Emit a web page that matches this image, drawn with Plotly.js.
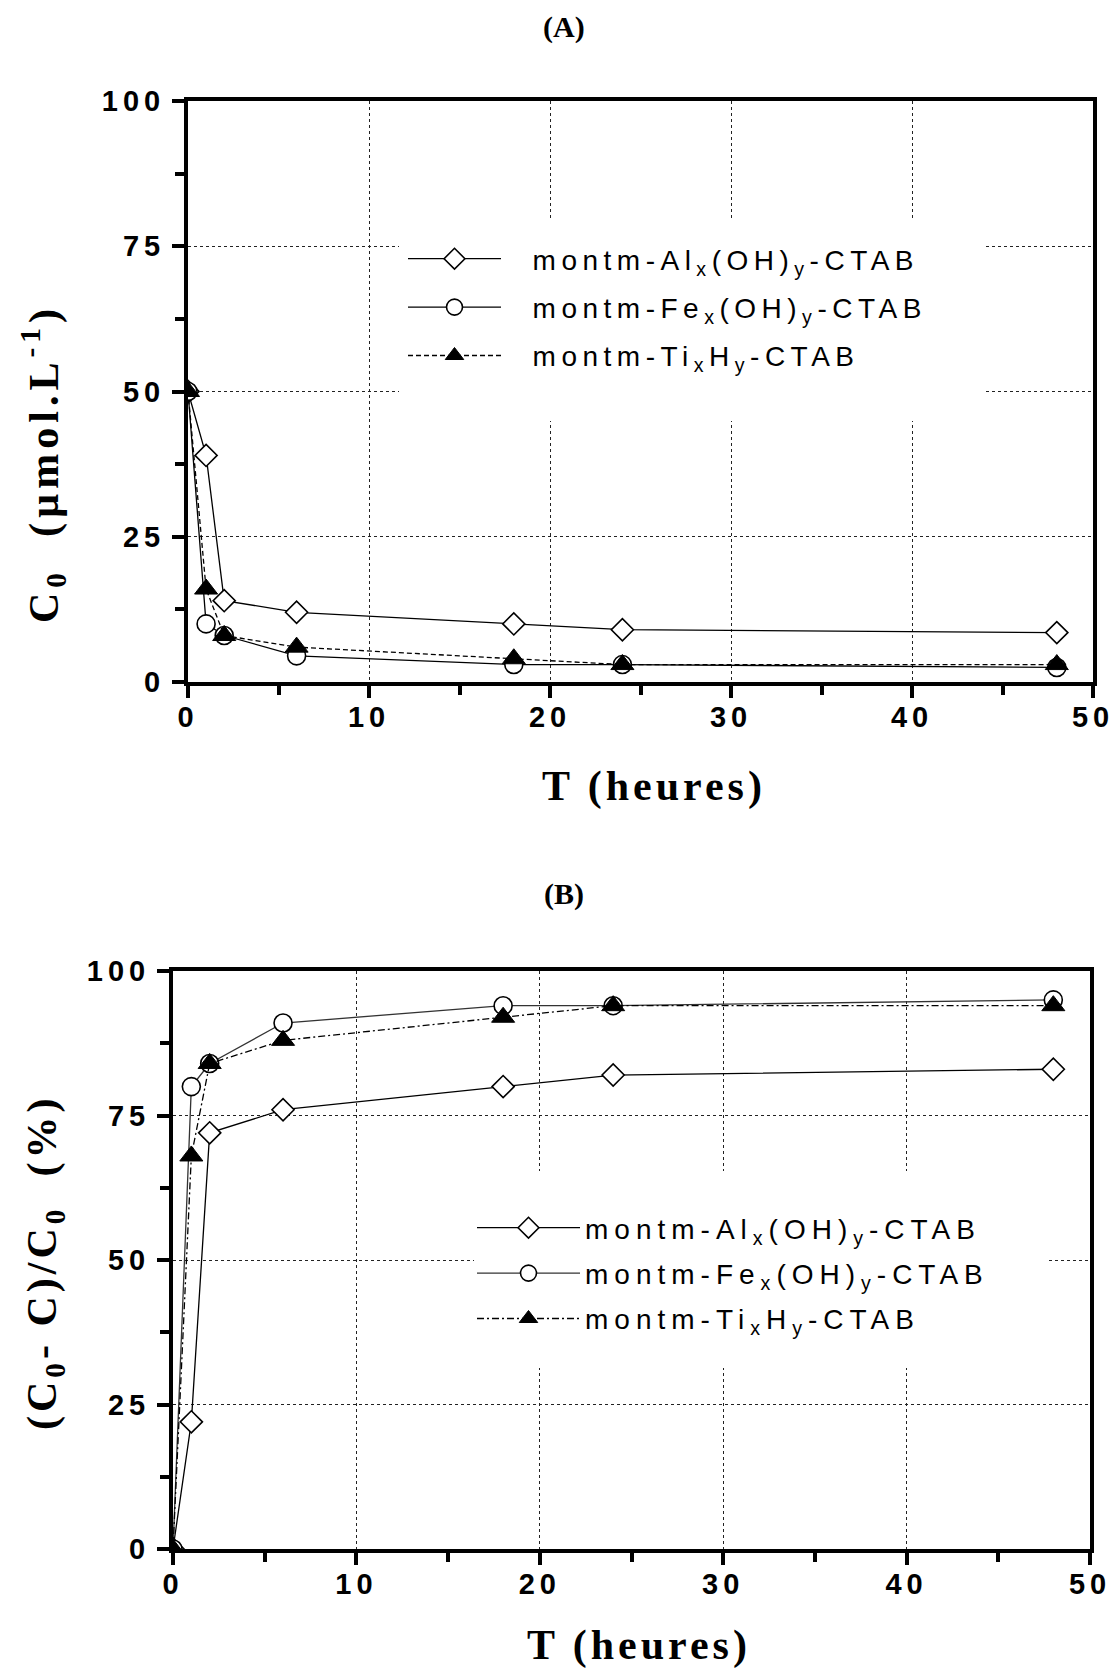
<!DOCTYPE html>
<html>
<head>
<meta charset="utf-8">
<script src="https://cdn.plot.ly/plotly-3.0.1.min.js"></script>
<style>
body{margin:0;background:#fff}
.legendtext{letter-spacing:5.5px}
.legend2text{letter-spacing:6px}
.xtick text,.ytick text,.x2tick text,.y2tick text{letter-spacing:5px}
.annotation-text{letter-spacing:4px}
.annotation[data-index="0"] text,.annotation[data-index="3"] text{letter-spacing:0px}
.annotation[data-index="2"] text{letter-spacing:5px}
</style>
</head>
<body>
<div id="chart" style="width:1118px;height:1669px"></div>
<script>
// ---- data ----
const hours = [0, 1, 2, 6, 18, 24, 48];
const concAl = [50, 39, 14, 12, 10, 9, 8.5];
const concFe = [50, 10, 8, 4.5, 3, 3, 2.5];
const concTi = [50, 16, 8, 6, 4, 3, 3];
const removalAl = [0, 22, 72, 76, 80, 82, 83];
const removalFe = [0, 80, 84, 91, 94, 94, 95];
const removalTi = [0, 68, 84, 88, 92, 94, 94];
const seriesNames = [
  'montm-Al<sub>x</sub>(OH)<sub>y</sub>-CTAB',
  'montm-Fe<sub>x</sub>(OH)<sub>y</sub>-CTAB',
  'montm-Ti<sub>x</sub>H<sub>y</sub>-CTAB'
];
const xTickVals = [0, 10, 20, 30, 40, 50];
const yTickVals = [0, 25, 50, 75, 100];
const panelTitles = ['(A)', '(B)'];
const xTitle = 'T (heures)';
const yTitleA = 'C<sub>0</sub>  (µmol.L<sup>-1</sup>)';
const yTitleB = '(C<sub>0</sub>- C)/C<sub>0</sub>  (%)';

// ---- styles ----
const W = 1118, H = 1669;
const px = v => v / W;
const py = v => 1 - v / H;
const sans = 'Liberation Sans, Arial, sans-serif';
const serif = 'Liberation Serif, Times New Roman, serif';
const gapA = '\u00A0\u00A0';

const mk = {
  Al: {symbol: 'diamond', size: 17, color: 'white', line: {color: 'black', width: 1.6}},
  Fe: {symbol: 'circle', size: 18, color: 'white', line: {color: 'black', width: 1.6}},
  Ti: {symbol: 'triangle-up', size: 20, color: 'black', line: {color: 'black', width: 1}}
};

function tr(y, name, m, line, xa, ya, leg, grp) {
  return {
    x: hours, y: y, name: name, type: 'scatter', mode: 'lines+markers',
    marker: m, line: line, xaxis: xa, yaxis: ya, legend: leg, legendgroup: grp
  };
}

const data = [
  tr(concAl, gapA + seriesNames[0], mk.Al, {color: 'black', width: 1.3}, 'x', 'y', 'legend', 'a1'),
  tr(concFe, gapA + seriesNames[1], mk.Fe, {color: 'black', width: 1.3}, 'x', 'y', 'legend', 'a2'),
  tr(concTi, gapA + seriesNames[2], mk.Ti, {color: 'black', width: 1.3, dash: '5px,3px'}, 'x', 'y', 'legend', 'a3'),
  tr(removalAl, seriesNames[0], mk.Al, {color: 'black', width: 1.3}, 'x2', 'y2', 'legend2', 'b1'),
  tr(removalFe, seriesNames[1], mk.Fe, {color: '#333', width: 1.3}, 'x2', 'y2', 'legend2', 'b2'),
  tr(removalTi, seriesNames[2], mk.Ti, {color: 'black', width: 1.3, dash: '7px,3px,2px,3px'}, 'x2', 'y2', 'legend2', 'b3')
];

function axis(extra, isX) {
  return Object.assign({
    range: isX ? [0, 50] : [0, 100],
    tickmode: 'array',
    tickvals: isX ? xTickVals : yTickVals,
    ticktext: (isX ? xTickVals : yTickVals).map(String),
    ticks: 'outside', ticklen: 12, tickwidth: 4, tickcolor: 'black',
    showline: true, linewidth: 4, linecolor: 'black', mirror: true,
    showgrid: true, gridcolor: '#222', gridwidth: 1, griddash: 'dot',
    zeroline: false,
    tickfont: {family: sans, size: 29, weight: 'bold', color: 'black'},
    ticklabelstandoff: isX ? -6 : 1,
    minor: {tick0: 0, dtick: isX ? 5 : 12.5, ticks: 'outside', ticklen: 9, tickwidth: 4, tickcolor: 'black', showgrid: false}
  }, extra);
}

const legendBase = {
  bgcolor: 'rgba(0,0,0,0)', borderwidth: 0,
  font: {family: sans, size: 28, color: 'black'},
  traceorder: 'grouped', xanchor: 'left', yanchor: 'top',
  itemclick: false, itemdoubleclick: false
};

function ann(text, x, y, size, angle) {
  return {
    text: text, x: px(x), y: py(y), xref: 'paper', yref: 'paper',
    showarrow: false, xanchor: 'center', yanchor: 'middle', textangle: angle || 0,
    font: {family: serif, size: size, weight: 'bold', color: 'black'}
  };
}

function rect(x0, y0, x1, y1) {
  return {type: 'rect', xref: 'paper', yref: 'paper', x0: px(x0), x1: px(x1), y0: py(y1), y1: py(y0),
    fillcolor: 'white', line: {width: 0}, layer: 'above'};
}

const layout = {
  width: W, height: H, margin: {l: 0, r: 0, t: 0, b: 0},
  paper_bgcolor: 'white', plot_bgcolor: 'white',
  showlegend: true,
  xaxis: axis({domain: [px(188), px(1093)], anchor: 'y'}, true),
  yaxis: axis({domain: [py(682), py(101)], anchor: 'x'}, false),
  xaxis2: axis({domain: [px(173), px(1090)], anchor: 'y2'}, true),
  yaxis2: axis({domain: [py(1549), py(971)], anchor: 'x2'}, false),
  legend: Object.assign({}, legendBase, {x: px(403), y: py(234), tracegroupgap: 9, itemwidth: 93}),
  legend2: Object.assign({}, legendBase, {x: px(472), y: py(1203), tracegroupgap: 6, itemwidth: 103}),
  shapes: [rect(399, 218, 985, 421), rect(474, 1171, 1049, 1368)],
  annotations: [
    ann(panelTitles[0], 564, 27, 30),
    ann(xTitle, 654, 786, 42),
    ann(yTitleA, 43, 464, 42, -90),
    ann(panelTitles[1], 564, 894, 30),
    ann(xTitle, 639, 1645, 42),
    ann(yTitleB, 45, 1262, 42, -90)
  ]
};

Plotly.newPlot('chart', data, layout, {staticPlot: true, displayModeBar: false});
</script>
</body>
</html>
